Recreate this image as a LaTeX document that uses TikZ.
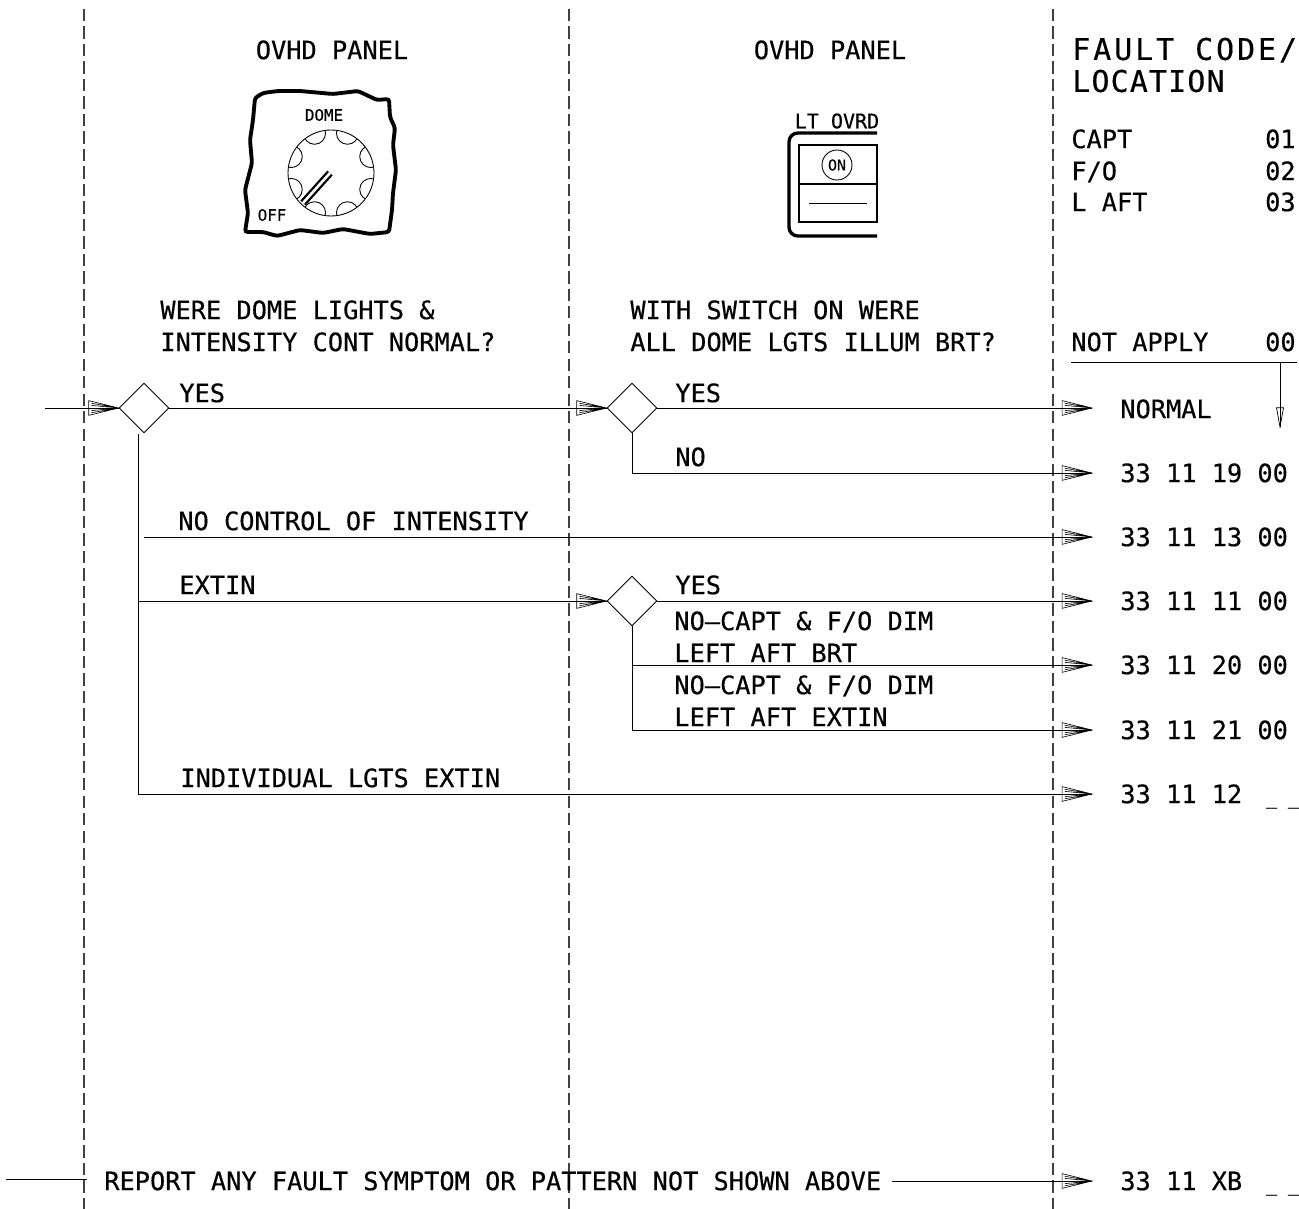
\documentclass[tikz,border=0pt]{standalone}
\usepackage{fontspec}
\setmainfont{DejaVu Sans Mono}[FakeBold=0.4]
\newfontfamily\bigfont{DejaVu Sans Mono}[LetterSpace=10,FakeBold=0.5]
\newfontfamily\bigtight{DejaVu Sans Mono}[LetterSpace=4,FakeBold=0.5]
\usetikzlibrary{shapes.geometric}
\pgfarrowsdeclare{hatch}{hatch}{\pgfarrowsleftextend{-17pt}\pgfarrowsrightextend{0pt}}{
  \pgfsetlinewidth{0.35pt}\pgfsetmiterlimit{10}
  \pgfpathmoveto{\pgfpoint{-17pt}{4.2pt}}
  \pgfpathlineto{\pgfpoint{0pt}{0pt}}
  \pgfpathlineto{\pgfpoint{-17pt}{-4.2pt}}
  \pgfpathclose
  \foreach \h in {-2.7,-1.5,1.5,2.7}{
    \pgfpathmoveto{\pgfpoint{-15.5pt}{\h pt}}\pgfpathlineto{\pgfpoint{0pt}{0pt}}
  }
  \pgfusepathqstroke}
\pgfarrowsdeclare{slim}{slim}{\pgfarrowsleftextend{-11pt}\pgfarrowsrightextend{0pt}}{
  \pgfsetlinewidth{0.4pt}\pgfsetmiterlimit{10}
  \pgfpathmoveto{\pgfpoint{-11pt}{2pt}}
  \pgfpathlineto{\pgfpoint{0pt}{0pt}}
  \pgfpathlineto{\pgfpoint{-11pt}{-2pt}}
  \pgfpathclose
  \pgfusepathqstroke}
\newcommand{\blanks}{\kern13.6pt{\fontsize{10.4}{12}\selectfont\raisebox{-0.6pt}{\_\kern6.2pt\_}}}
\tikzset{
  txt/.style={anchor=west,inner sep=0pt,text height=10.4pt,text depth=0pt,font=\fontsize{14.4}{16}\selectfont},
  code/.style={anchor=west,inner ysep=0pt,inner xsep=0.56cm,text height=10.4pt,text depth=0pt,font=\fontsize{14.4}{16}\selectfont},
  big/.style={anchor=west,inner sep=0pt,text height=12.4pt,text depth=0pt,font=\bigfont\fontsize{17}{20}\selectfont},
  dec/.style={draw,diamond,aspect=1,inner sep=0pt,minimum size=1cm,line width=0.5pt},
  column/.style={dash pattern=on 7pt off 2.95pt,line width=0.6pt,black!75},
  flow/.style={line width=0.5pt},
  flowin/.style={flow,-hatch}
}
\begin{document}
\begin{tikzpicture}[x=0.02cm,y=-0.02cm]
\useasboundingbox (0,0) rectangle (1299,1209);
% column rules
\draw[column] (84,9) -- (84,1209);
\draw[column] (569,9) -- (569,1209);
\draw[column] (1053,9) -- (1053,1209);
% panel headings
\node[txt,anchor=center] (head1) at (332,50) {OVHD PANEL};
\node[txt,anchor=center] (head2) at (830,50) {OVHD PANEL};
% dome dial
\draw[line width=2.2pt,rounded corners=1.5pt] (255,98) -- (263,93) -- (278,91) -- (300,91) -- (333,94) -- (358,91) -- (377,100) -- (389,99) -- (390,117) -- (395,128) -- (393,145) -- (396,170) -- (393,193) -- (392,210) -- (389,232) -- (370,234) -- (343,229) -- (323,233) -- (300,230) -- (277,236) -- (263,232) -- (245,232) -- (248,213) -- (245,190) -- (252,163) -- (250,140) -- (253,120) -- cycle;
\node[inner sep=0pt,font=\fontsize{9}{10}\selectfont] (dome) at (324,115) {DOME};
\node[inner sep=0pt,font=\fontsize{9}{10}\selectfont] (off) at (272,215) {OFF};
\draw[line width=0.5pt] (331,173) circle (43);
\begin{scope}
\clip (331,173) circle (43);
\foreach \a in {22.5,67.5,...,337.5}
  \draw[line width=0.5pt] (331,173) ++(\a:43) circle (11);
\end{scope}
\draw[line width=1.3pt,double=white,double distance=1.5pt] (330,173) -- (303,203);
% override switch
\node[inner sep=0pt,font=\fontsize{11.4}{12}\selectfont] (ovrd) at (837,121) {LT OVRD};
\draw[line width=1.9pt,rounded corners=5pt] (877,133) -- (789,133) -- (789,236) -- (877,236);
\draw[line width=0.6pt] (877,145) -- (799,145) -- (799,222) -- (877,222) -- cycle;
\draw[line width=0.7pt] (799,184) -- (877,184);
\draw[line width=0.5pt] (809,203) -- (867,203);
\node[draw,circle,inner sep=0pt,minimum size=0.6cm,line width=0.5pt,font=\fontsize{8.5}{10}\selectfont] (on) at (837,165) {ON};
% fault code column
\node[big] (fault1) at (1072,49) {FAULT CODE/};
\node[big,font=\bigtight\fontsize{17}{20}\selectfont] (fault2) at (1072,81) {LOCATION};
\node[txt] (capt) at (1071,139) {CAPT};
\node[txt] (fo) at (1071,171) {F/O};
\node[txt] (laft) at (1071,202) {L AFT};
\node[txt,anchor=east] (c01) at (1296,139) {01};
\node[txt,anchor=east] (c02) at (1296,171) {02};
\node[txt,anchor=east] (c03) at (1296,202) {03};
\node[txt] (notapply) at (1071,342) {NOT APPLY};
\node[txt,anchor=east] (c00) at (1296,342) {00};
\coordinate (ruleL) at (1071,362);
\coordinate (ruleR) at (1297,362);
\coordinate (dropA) at (1280,362);
\coordinate (dropB) at (1280,427);
\draw[flow] (ruleL) -- (ruleR);
\draw[flow,-slim] (dropA) -- (dropB);
% questions
\node[txt] (q1a) at (160,310) {WERE DOME LIGHTS \&};
\node[txt] (q1b) at (160,342) {INTENSITY CONT NORMAL?};
\node[txt] (q2a) at (630,310) {WITH SWITCH ON WERE};
\node[txt] (q2b) at (630,342) {ALL DOME LGTS ILLUM BRT?};
% decisions
\node[dec] (d1) at (144,408) {};
\node[dec] (d2) at (632,408) {};
\node[dec] (d3) at (632,601) {};
% results
\node[code] (normal) at (1092,409) {NORMAL};
\node[code] (r19) at (1092,473) {33 11 19 00};
\node[code] (r13) at (1092,537) {33 11 13 00};
\node[code] (r11) at (1092,601) {33 11 11 00};
\node[code] (r20) at (1092,665) {33 11 20 00};
\node[code] (r21) at (1092,730) {33 11 21 00};
\node[code] (r12) at (1092,794) {33 11 12\blanks};
\node[code] (rxb) at (1092,1181) {33 11 XB\blanks};
\node[txt] (report) at (104,1181) {REPORT ANY FAULT SYMPTOM OR PATTERN NOT SHOWN ABOVE};
% free ends
\coordinate (entry) at (45,408);
\coordinate (trunk) at (138,434);
\coordinate (cut) at (144,537);
\coordinate (replead) at (6,1179);
\coordinate (repstop) at (87,1179);
\coordinate (repout) at (892,1181);
% connectors
\draw[flowin] (entry) -- (d1.west);
\draw[flowin] (d1.east) -- (d2.west);
\draw[flowin] (d2.east) -- (normal.west |- d2.east);
\draw[flowin] (d2.south) |- (r19.west);
\draw[flow] (trunk) -- (trunk |- r12.west);
\draw[flowin] (cut) -- (r13.west);
\draw[flowin] (trunk |- d3.west) -- (d3.west);
\draw[flowin] (d3.east) -- (r11.west);
\draw[flow] (d3.south) -- (d3.south |- r21.west);
\draw[flowin] (d3.south |- r20.west) -- (r20.west);
\draw[flowin] (d3.south |- r21.west) -- (r21.west);
\draw[flowin] (trunk |- r12.west) -- (r12.west);
\draw[flow] (replead) -- (repstop);
\draw[flowin] (repout) -- (rxb.west);
% branch labels
\node[txt] (l1) at (179,393) {YES};
\node[txt] (l2) at (675,393) {YES};
\node[txt] (l3) at (675,457) {NO};
\node[txt] (l4) at (178,521) {NO CONTROL OF INTENSITY};
\node[txt] (l5) at (179,585) {EXTIN};
\node[txt] (l6) at (675,585) {YES};
\node[txt] (l7) at (674,621) {NO--CAPT \& F/O DIM};
\node[txt] (l8) at (674,653) {LEFT AFT BRT};
\node[txt] (l9) at (674,685) {NO--CAPT \& F/O DIM};
\node[txt] (l10) at (674,717) {LEFT AFT EXTIN};
\node[txt] (l11) at (180,778) {INDIVIDUAL LGTS EXTIN};
\end{tikzpicture}
\end{document}
